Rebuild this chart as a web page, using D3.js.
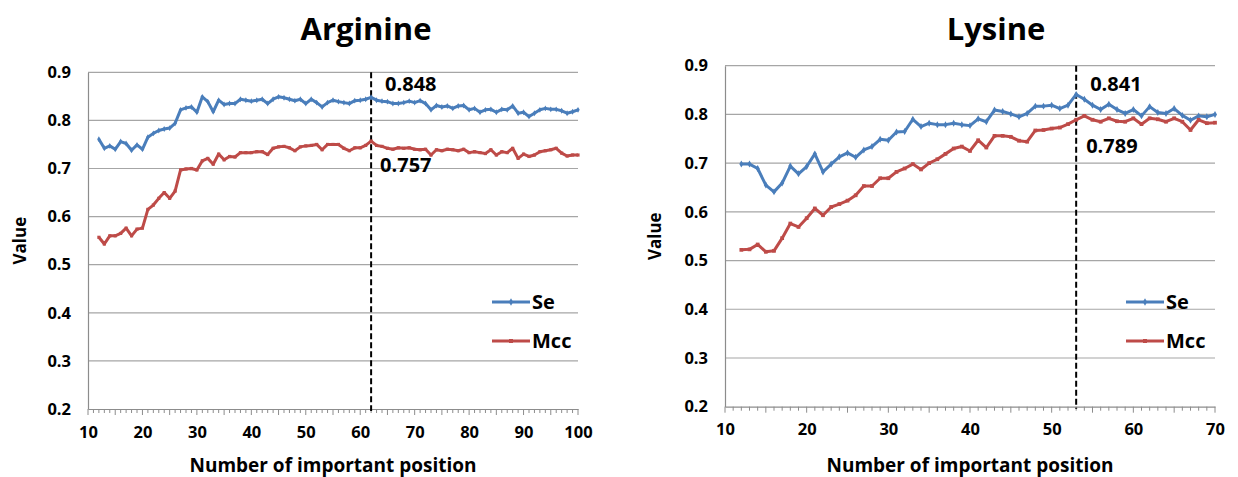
<!DOCTYPE html>
<html lang="en">
  <head>
    <meta charset="utf-8">
    <title>Arginine / Lysine</title>
    <script src="https://d3js.org/d3.v7.js"></script>
    <style>
      body { margin: 0; background: #fff; }
      text { font-family: "Open Sans", "DejaVu Sans", sans-serif; font-weight: bold; fill: #000; }
    </style>
  </head>
  <body>
  <script>

// ---- Arginine (left panel) ----
var argX = [12,13,14,15,16,17,18,19,20,21,22,23,24,25,26,27,28,29,30,31,32,33,34,35,36,37,38,39,40,
  41,42,43,44,45,46,47,48,49,50,51,52,53,54,55,56,57,58,59,60,61,62,63,64,65,66,67,68,69,70,
  71,72,73,74,75,76,77,78,79,80,81,82,83,84,85,86,87,88,89,90,91,92,93,94,95,96,97,98,99,100];
var argSe = [0.761,0.742,0.747,0.740,0.756,0.752,0.738,0.749,0.740,0.765,0.773,0.779,0.782,0.784,0.794,
  0.822,0.826,0.828,0.817,0.849,0.839,0.818,0.842,0.833,0.835,0.835,0.844,0.842,0.840,
  0.842,0.844,0.835,0.844,0.849,0.847,0.844,0.841,0.844,0.835,0.844,0.837,0.828,0.837,0.842,0.839,
  0.837,0.835,0.841,0.842,0.844,0.848,0.842,0.840,0.839,0.835,0.835,0.837,0.840,0.837,
  0.841,0.835,0.822,0.831,0.828,0.830,0.825,0.830,0.831,0.822,0.825,0.817,0.822,0.823,0.817,
  0.823,0.822,0.830,0.815,0.817,0.808,0.815,0.822,0.825,0.823,0.823,0.820,0.815,0.818,0.822];
var argMcc = [0.557,0.543,0.560,0.560,0.565,0.576,0.560,0.574,0.576,0.615,0.624,0.638,0.650,0.638,0.653,
  0.697,0.699,0.700,0.697,0.716,0.721,0.709,0.730,0.718,0.725,0.724,0.733,0.733,0.733,
  0.735,0.735,0.729,0.742,0.745,0.746,0.743,0.737,0.745,0.747,0.748,0.750,0.739,0.750,0.750,0.750,
  0.742,0.737,0.743,0.743,0.748,0.757,0.748,0.746,0.742,0.740,0.743,0.742,0.743,0.740,
  0.739,0.740,0.728,0.739,0.737,0.740,0.739,0.737,0.740,0.733,0.735,0.733,0.731,0.739,0.728,
  0.735,0.733,0.742,0.721,0.730,0.725,0.728,0.735,0.737,0.739,0.742,0.732,0.726,0.728,0.728];

// ---- Lysine (right panel) ----
var lysX = [12,13,14,15,16,17,18,19,20,21,22,23,24,25,26,27,28,29,30,31,32,33,34,35,36,37,38,39,40,
  41,42,43,44,45,46,47,48,49,50,51,52,53,54,55,56,57,58,59,60,61,62,63,64,65,66,67,68,69,70];
var lysSe = [0.698,0.698,0.689,0.655,0.641,0.659,0.694,0.678,0.693,0.719,0.682,0.698,0.713,0.721,0.712,
  0.727,0.734,0.749,0.747,0.764,0.765,0.790,0.775,0.782,0.779,0.779,0.782,0.779,0.777,
  0.791,0.785,0.809,0.806,0.801,0.795,0.802,0.817,0.817,0.819,0.812,0.819,0.841,0.831,0.819,0.810,
  0.821,0.810,0.802,0.810,0.797,0.816,0.804,0.802,0.812,0.798,0.788,0.797,0.795,0.800];
var lysMcc = [0.522,0.523,0.533,0.518,0.520,0.546,0.576,0.569,0.587,0.607,0.593,0.610,0.616,0.623,0.634,
  0.653,0.653,0.669,0.669,0.682,0.689,0.698,0.687,0.700,0.708,0.719,0.730,0.734,0.725,
  0.747,0.732,0.756,0.756,0.754,0.746,0.744,0.767,0.768,0.771,0.773,0.780,0.789,0.797,0.789,0.785,
  0.792,0.786,0.785,0.792,0.780,0.792,0.790,0.785,0.792,0.785,0.768,0.789,0.782,0.783];

var yTicks = [0.2,0.3,0.4,0.5,0.6,0.7,0.8,0.9];
var argXTicks = [10,20,30,40,50,60,70,80,90,100];
var lysXTicks = [10,20,30,40,50,60,70];
var seriesNames = ["Se", "Mcc"];

var seColor = "#4a7ebb";
var mccColor = "#be4b48";

var svg = d3.select("body")
  .append("svg")
    .attr("width", 1238)
    .attr("height", 477);

function drawPanel(p) {
  var xScale = d3.scaleLinear().domain(p.xDomain).range([p.left, p.right]);
  var yScale = d3.scaleLinear().domain([0.2, 0.9]).range([p.bottom, p.top]);
  var g = svg.append("g");

  // gridlines
  g.selectAll(".grid")
    .data(yTicks.slice(1))
    .enter().append("line")
      .attr("x1", p.left).attr("x2", p.right)
      .attr("y1", d => yScale(d)).attr("y2", d => yScale(d))
      .attr("stroke", "#a6a6a6").attr("stroke-width", 1.2);

  // y axis
  var yAxis = d3.axisLeft(yScale).tickValues(yTicks).tickFormat(d3.format(".1f")).tickSize(0).tickPadding(17);
  var ya = g.append("g").attr("transform", `translate(${p.left},0)`).call(yAxis);
  ya.select(".domain").attr("stroke", "#8c8c8c").attr("stroke-width", 1.2);
  ya.selectAll("text").style("font-size", "16.5px").style("font-family", null);

  // x axis with small ticks every unit
  var minor = d3.range(p.xDomain[0], p.xDomain[1] + 1);
  g.selectAll(".mtick")
    .data(minor)
    .enter().append("line")
      .attr("x1", d => xScale(d)).attr("x2", d => xScale(d))
      .attr("y1", p.bottom).attr("y2", d => p.bottom + (d % 5 == 0 ? 6 : 4))
      .attr("stroke", "#8c8c8c").attr("stroke-width", 1);
  var xAxis = d3.axisBottom(xScale).tickValues(p.xTicks).tickSize(0).tickPadding(17);
  var xa = g.append("g").attr("transform", `translate(0,${p.bottom})`).call(xAxis);
  xa.select(".domain").attr("stroke", "#8c8c8c").attr("stroke-width", 1.2);
  xa.selectAll("text").style("font-size", "16.5px").style("font-family", null);

  // dashed marker line
  g.append("line")
    .attr("x1", xScale(p.best)).attr("x2", xScale(p.best))
    .attr("y1", p.top).attr("y2", p.bottom + 2)
    .attr("stroke", "#000").attr("stroke-width", 2)
    .attr("stroke-dasharray", "6,3");

  var line = d3.line()
    .x((d, i) => xScale(p.x[i]))
    .y(d => yScale(d));

  var series = [
    {name: seriesNames[0], values: p.se, color: seColor, sym: d3.symbolDiamond},
    {name: seriesNames[1], values: p.mcc, color: mccColor, sym: d3.symbolSquare}
  ];

  series.forEach(function (s) {
    g.append("path")
      .datum(s.values)
      .attr("fill", "none")
      .attr("stroke", s.color)
      .attr("stroke-width", 3)
      .attr("stroke-linejoin", "round")
      .attr("d", line);
    g.selectAll(null)
      .data(s.values)
      .enter().append("path")
        .attr("transform", (d, i) => `translate(${xScale(p.x[i])},${yScale(d)})`)
        .attr("d", d3.symbol().type(s.sym).size(p.markSize))
        .attr("fill", s.color);
  });

  // annotations
  g.append("text")
    .attr("x", xScale(p.best) + p.seLabel[0]).attr("y", yScale(p.seBest) + p.seLabel[1])
    .style("font-size", "20px").text(p.seBest.toFixed(3));
  g.append("text")
    .attr("x", xScale(p.best) + p.mccLabel[0]).attr("y", yScale(p.mccBest) + p.mccLabel[1])
    .style("font-size", "20px").text(p.mccBest.toFixed(3));

  // legend
  series.forEach(function (s, i) {
    var ly = p.legendY + i * 39;
    g.append("line")
      .attr("x1", p.legendX).attr("x2", p.legendX + 38)
      .attr("y1", ly).attr("y2", ly)
      .attr("stroke", s.color).attr("stroke-width", 3);
    g.append("path")
      .attr("transform", `translate(${p.legendX + 19},${ly})`)
      .attr("d", d3.symbol().type(s.sym).size(16))
      .attr("fill", s.color);
    g.append("text")
      .attr("x", p.legendX + 40).attr("y", ly + 7)
      .style("font-size", "20px").text(s.name);
  });

  // titles
  g.append("text")
    .attr("x", p.titleX).attr("y", 40)
    .attr("text-anchor", "middle")
    .style("font-size", "31px").text(p.title);
  g.append("text")
    .attr("x", (p.left + p.right) / 2).attr("y", 472)
    .attr("text-anchor", "middle")
    .style("font-size", "19px").text("Number of important position");
  g.append("text")
    .attr("transform", `translate(${p.yLabelX},${(p.top + p.bottom) / 2}) rotate(-90)`)
    .attr("text-anchor", "middle")
    .style("font-size", "17px").text("Value");
}

drawPanel({
  title: "Arginine", titleX: 366,
  x: argX, se: argSe, mcc: argMcc,
  xDomain: [10, 100], xTicks: argXTicks,
  left: 88, right: 578, top: 72.3, bottom: 409,
  best: 62, seBest: 0.848, mccBest: 0.757,
  seLabel: [14, -6], mccLabel: [9, 31],
  legendX: 492, legendY: 302, yLabelX: 26, markSize: 10
});

drawPanel({
  title: "Lysine", titleX: 996,
  x: lysX, se: lysSe, mcc: lysMcc,
  xDomain: [10, 70], xTicks: lysXTicks,
  left: 725, right: 1215, top: 65.7, bottom: 406.7,
  best: 53, seBest: 0.841, mccBest: 0.789,
  seLabel: [14, -3], mccLabel: [10, 33],
  legendX: 1126, legendY: 302, yLabelX: 661, markSize: 14
});

  </script>
  </body>
</html>
